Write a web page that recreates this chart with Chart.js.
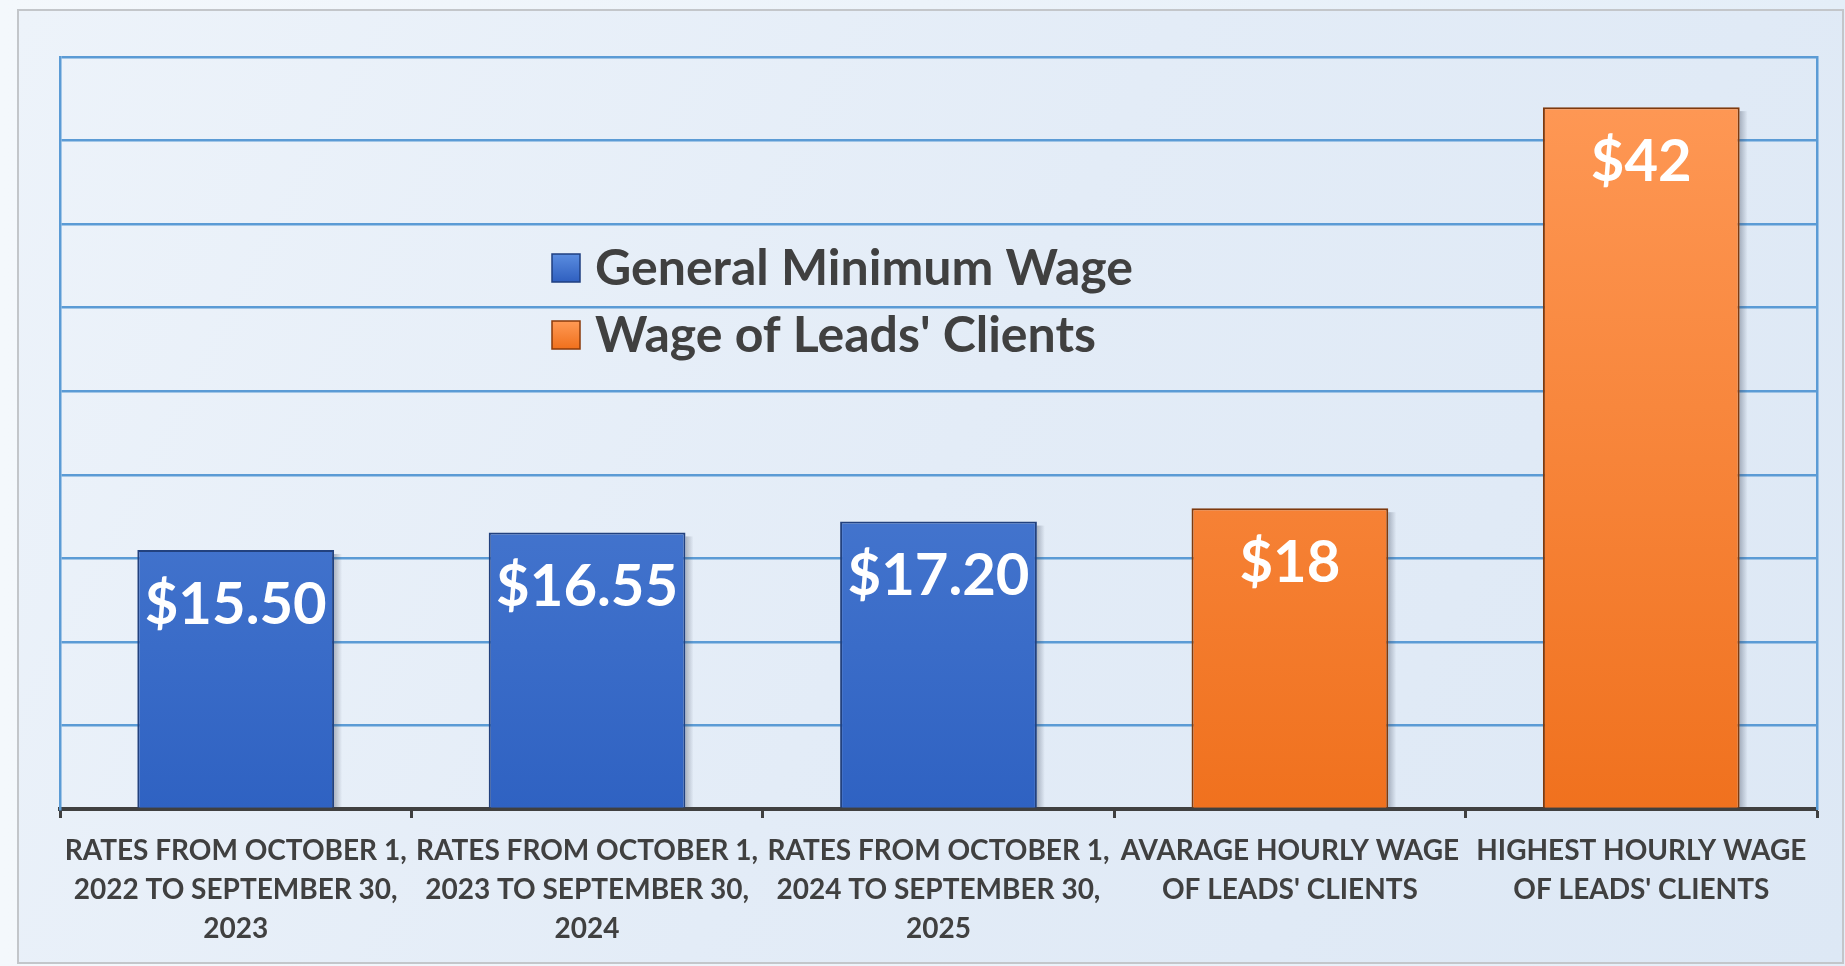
<!DOCTYPE html>
<html>
<head>
<meta charset="utf-8">
<script src="https://cdn.jsdelivr.net/npm/chart.js@4.4.0/dist/chart.umd.min.js"></script>
<style>
  html,body{margin:0;padding:0;background:#f2f7fc;}
  #wrap{width:1845px;height:966px;}
</style>
</head>
<body>
<div id="wrap"><canvas id="wages"></canvas></div>
<script>
// categories and values
var categories=[
  ["RATES FROM OCTOBER 1,","2022 TO SEPTEMBER 30,","2023"],
  ["RATES FROM OCTOBER 1,","2023 TO SEPTEMBER 30,","2024"],
  ["RATES FROM OCTOBER 1,","2024 TO SEPTEMBER 30,","2025"],
  ["AVARAGE HOURLY WAGE","OF LEADS' CLIENTS"],
  ["HIGHEST HOURLY WAGE","OF LEADS' CLIENTS"]
];
var minimumWage=[15.50,16.55,17.20,null,null];
var leadsWage=[null,null,null,18,42];
var seriesNames=["General Minimum Wage","Wage of Leads' Clients"];
var yMax=45, yStep=5;

function fmt(v){
  return Number.isInteger(v) ? "$"+v : "$"+v.toFixed(2);
}

function barGradient(top,bottom){
  return function(c){
    var area=c.chart.chartArea;
    if(!area) return bottom;
    var g=c.chart.ctx.createLinearGradient(0,area.top,0,area.bottom);
    g.addColorStop(0,top);
    g.addColorStop(1,bottom);
    return g;
  };
}

var panel={
  id:"panel",
  beforeDraw:function(chart){
    var ctx=chart.ctx,w=chart.width,h=chart.height;
    ctx.save();
    var bg=ctx.createLinearGradient(0,0,w,0);
    bg.addColorStop(0,"#f4f8fc");
    bg.addColorStop(1,"#e4eef8");
    ctx.fillStyle=bg;
    ctx.fillRect(0,0,w,h);
    var p=ctx.createLinearGradient(18,10,1843,963);
    p.addColorStop(0,"#edf3fa");
    p.addColorStop(0.5,"#e3ecf7");
    p.addColorStop(1,"#dde8f5");
    ctx.fillStyle=p;
    ctx.fillRect(18,10,1825,953);
    ctx.strokeStyle="#c3c6ca";
    ctx.lineWidth=2;
    ctx.strokeRect(18,10,1825,953);
    ctx.restore();
  }
};

// soft shadow on the right side of each bar, like the bevelled look
var barShade={
  id:"barShade",
  beforeDatasetsDraw:function(chart){
    var ctx=chart.ctx;
    ctx.save();
    chart.data.datasets.forEach(function(ds,i){
      chart.getDatasetMeta(i).data.forEach(function(el,j){
        if(ds.data[j]===null) return;
        var half=el.width/2;
        var g=ctx.createLinearGradient(el.x+half,0,el.x+half+8,0);
        g.addColorStop(0,"rgba(60,70,90,0.35)");
        g.addColorStop(1,"rgba(60,70,90,0)");
        ctx.fillStyle=g;
        ctx.fillRect(el.x+half,el.y+4,8,el.base-el.y-4);
      });
    });
    ctx.restore();
  }
};

var valueLabels={
  id:"valueLabels",
  afterDatasetsDraw:function(chart){
    var ctx=chart.ctx;
    ctx.save();
    ctx.font="bold 58px Lato";
    ctx.fillStyle="#ffffff";
    ctx.textAlign="center";
    ctx.textBaseline="middle";
    chart.data.datasets.forEach(function(ds,i){
      chart.getDatasetMeta(i).data.forEach(function(el,j){
        var v=ds.data[j];
        if(v===null) return;
        ctx.fillText(fmt(v),el.x,el.y+55);
      });
    });
    ctx.restore();
  }
};

var boxLegend={
  id:"boxLegend",
  afterDraw:function(chart){
    var ctx=chart.ctx;
    var fills=[["#5b8de0","#2f5fbf","#1f3f80"],["#ff9a55","#f0701c","#8a3a0a"]];
    ctx.save();
    ctx.font="bold 50px Lato";
    ctx.textBaseline="middle";
    seriesNames.forEach(function(name,i){
      var x=552,y=268+i*67;
      var g=ctx.createLinearGradient(0,y-14,0,y+14);
      g.addColorStop(0,fills[i][0]);
      g.addColorStop(1,fills[i][1]);
      ctx.fillStyle=g;
      ctx.fillRect(x,y-14,28,28);
      ctx.strokeStyle=fills[i][2];
      ctx.lineWidth=1.5;
      ctx.strokeRect(x,y-14,28,28);
      ctx.fillStyle="#404040";
      ctx.fillText(name,x+43,y+1);
    });
    ctx.restore();
  }
};

var myChart=new Chart(document.getElementById("wages"),{
  type:"bar",
  data:{
    labels:categories,
    datasets:[{
      label:seriesNames[0],
      data:minimumWage,
      backgroundColor:barGradient("#6290de","#2f62c2"),
      borderColor:"#22417e",
      borderWidth:2,
      categoryPercentage:1,
      barPercentage:0.56
    },{
      label:seriesNames[1],
      data:leadsWage,
      backgroundColor:barGradient("#ff9a58","#f0711e"),
      borderColor:"#7e3a0e",
      borderWidth:2,
      categoryPercentage:1,
      barPercentage:0.56
    }]
  },
  options:{
    responsive:true,
    maintainAspectRatio:false,
    animation:false,
    layout:{padding:{left:60,right:28,top:57,bottom:0}},
    plugins:{legend:{display:false},tooltip:{enabled:false}},
    scales:{
      x:{
        stacked:true,
        afterFit:function(a){a.height=157;},
        grid:{drawOnChartArea:false,drawTicks:true,tickLength:9,tickWidth:3,color:"#404040",offset:true},
        border:{color:"#404040",width:4},
        ticks:{color:"#404040",font:{family:"Lato",weight:"bold",size:28,lineHeight:1.38},padding:14,maxRotation:0,autoSkip:false}
      },
      y:{
        stacked:true,
        min:0,max:yMax,
        afterFit:function(a){a.width=0;},
        ticks:{display:false,stepSize:yStep},
        grid:{color:"#5b9bd5",lineWidth:2.5,drawTicks:false},
        border:{color:"#5b9bd5",width:2.5}
      },
      y2:{
        position:"right",
        min:0,max:yMax,
        afterFit:function(a){a.width=0;},
        ticks:{display:false},
        grid:{display:false},
        border:{color:"#5b9bd5",width:2.5}
      }
    }
  },
  plugins:[panel,barShade,valueLabels,boxLegend]
});
</script>
</body>
</html>
